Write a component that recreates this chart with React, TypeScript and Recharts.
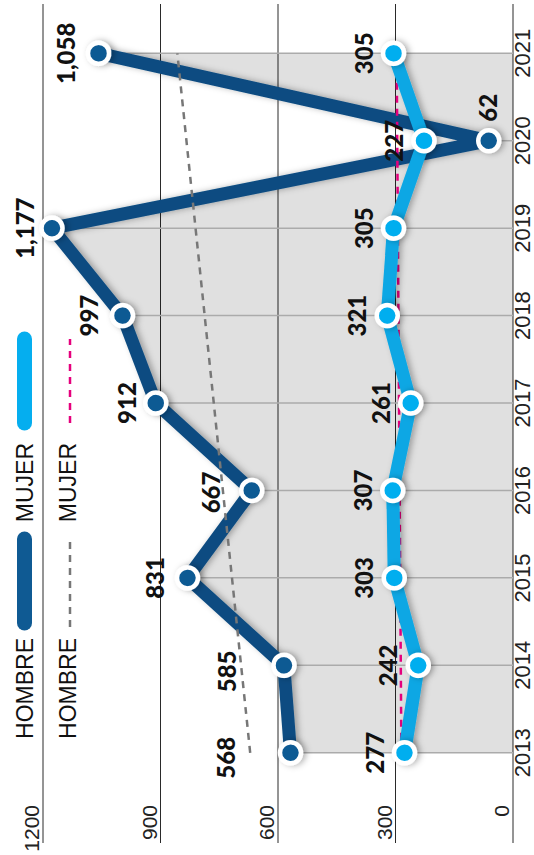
import React from 'react'
import { ComposedChart, Area, Bar, Line, XAxis, YAxis, CartesianGrid, LabelList } from 'recharts'

const years = [2013, 2014, 2015, 2016, 2017, 2018, 2019, 2020, 2021]
const hombre = [568, 585, 831, 667, 912, 997, 1177, 62, 1058]
const mujer = [277, 242, 303, 307, 261, 321, 305, 227, 305]
// tendencia: solo los extremos
const hombreTrend = [671, null, null, null, null, null, null, null, 857]
const mujerTrend = [285, null, null, null, null, null, null, null, 297]
const valueTicks = [0, 300, 600, 900, 1200]

const data = years.map((year, i) => ({
  year,
  hombre: hombre[i],
  mujer: mujer[i],
  hombreTrend: hombreTrend[i],
  mujerTrend: mujerTrend[i],
}))

const DARK = '#0c4c81'
const DARK_DOT = '#0f5a93'
const LIGHT = '#0aa7e4'
const LIGHT_DOT = '#05aeef'
const MAGENTA = '#e5007d'
const GREY_DASH = '#777'
const AXIS_FONT = "'Liberation Sans Narrow', 'Liberation Sans', Arial, sans-serif"
const NUM_FONT = "Lato, 'Noto Sans', sans-serif"

const fmt = (v: number) => v.toLocaleString('en-US')

// rotulos de HOMBRE: cuanto suben sobre el punto (algunos esquivan la tendencia)
const hombreLift = [56, 48, 24, 32, 20, 25, 18, 0, 24]
const hombreShift = [-5, -6, 0, -2, 0, 0, 0, 0, 0]

const labelStyle = { fontFamily: NUM_FONT, fontWeight: 900, fontSize: 24, fill: '#111' }

const HombreLabel = (p: any) => {
  const { x, y, value, index } = p
  if (index === 7) {
    return (
      <text x={x + 19} y={y + 8} textAnchor="start" {...labelStyle}>
        {fmt(value)}
      </text>
    )
  }
  return (
    <text x={x + hombreShift[index]} y={y - hombreLift[index]} textAnchor="middle" {...labelStyle}>
      {fmt(value)}
    </text>
  )
}

const MujerLabel = (p: any) => {
  const { x, y, value } = p
  return (
    <text x={x} y={y - 21} textAnchor="middle" {...labelStyle}>
      {fmt(value)}
    </text>
  )
}

const YearTick = (p: any) => (
  <text x={p.x} y={p.y + 17} textAnchor="middle" fontFamily={AXIS_FONT} fontSize={22} fill="#222">
    {p.payload.value}
  </text>
)

const ValueTick = (p: any) => (
  <text x={50} y={p.y - 4} textAnchor="end" fontFamily={AXIS_FONT} fontSize={21} fill="#222">
    {p.payload.value}
  </text>
)

function Legend() {
  const txt = { fontFamily: AXIS_FONT, fontSize: 23, fill: '#111' }
  return (
    <svg width={855} height={534} style={{ position: 'absolute', left: 0, top: 0, pointerEvents: 'none' }}>
      <text x={217} y={33} textAnchor="end" {...txt}>HOMBRE</text>
      <line x1={232} x2={316} y1={24.5} y2={24.5} stroke={DARK_DOT} strokeWidth={15} strokeLinecap="round" />
      <text x={412} y={33} textAnchor="end" {...txt}>MUJER</text>
      <line x1={432} x2={516} y1={24.5} y2={24.5} stroke={LIGHT_DOT} strokeWidth={15} strokeLinecap="round" />

      <text x={217} y={76} textAnchor="end" {...txt}>HOMBRE</text>
      <line x1={228} x2={318} y1={70} y2={70} stroke={GREY_DASH} strokeWidth={2.5} strokeDasharray="7 6" />
      <text x={412} y={76} textAnchor="end" {...txt}>MUJER</text>
      <line x1={432} x2={516} y1={70} y2={70} stroke={MAGENTA} strokeWidth={2.5} strokeDasharray="7 6" />
    </svg>
  )
}

export default function App() {
  return (
    <div style={{ position: 'absolute', left: 0, top: 0, width: 534, height: 855, overflow: 'hidden', background: '#fff' }}>
      <div
        style={{
          position: 'absolute',
          left: 0,
          top: 0,
          width: 855,
          height: 534,
          transformOrigin: '0 0',
          transform: 'translateY(855px) rotate(-90deg)',
        }}
      >
        <ComposedChart width={855} height={534} data={data} margin={{ top: 43, right: 4, bottom: 0, left: 0 }}>
          <defs>
            <filter id="shd" filterUnits="userSpaceOnUse" x={0} y={0} width={855} height={534}>
              <feDropShadow dx={0} dy={3} stdDeviation={3} floodColor="#000" floodOpacity={0.3} />
            </filter>
          </defs>
          <CartesianGrid vertical={false} stroke="#2a2a2a" strokeWidth={1} />
          <XAxis
            dataKey="year"
            type="number"
            domain={[2011.968, 2021.564]}
            ticks={years}
            height={21}
            axisLine={false}
            tickLine={false}
            tickSize={0}
            tickMargin={0}
            tick={YearTick}
          />
          <YAxis domain={[0, 1200]} ticks={valueTicks} width={12} axisLine={false} tickLine={false} tick={ValueTick} />

          <Area dataKey="hombre" type="linear" fill="#000" fillOpacity={0.12} stroke="none" isAnimationActive={false} />
          <Bar dataKey="hombre" barSize={1.5} fill="#ababab" isAnimationActive={false} />

          <Line dataKey="hombre" type="linear" stroke={DARK} strokeWidth={13} strokeLinejoin="round" dot={false} filter="url(#shd)" isAnimationActive={false} />
          <Line dataKey="hombreTrend" type="linear" stroke={GREY_DASH} strokeWidth={2.5} strokeDasharray="7 6" dot={false} connectNulls isAnimationActive={false} />
          <Line dataKey="mujerTrend" type="linear" stroke={MAGENTA} strokeWidth={2.5} strokeDasharray="7 6" dot={false} connectNulls isAnimationActive={false} />
          <Line dataKey="mujer" type="linear" stroke={LIGHT} strokeWidth={13} strokeLinejoin="round" dot={false} filter="url(#shd)" isAnimationActive={false} />

          <Line
            dataKey="hombre"
            stroke="none"
            dot={{ r: 10.5, fill: DARK_DOT, stroke: '#fff', strokeWidth: 4.5, filter: 'url(#shd)' }}
            activeDot={false}
            isAnimationActive={false}
          >
            <LabelList dataKey="hombre" content={HombreLabel} />
          </Line>
          <Line
            dataKey="mujer"
            stroke="none"
            dot={{ r: 10.5, fill: LIGHT_DOT, stroke: '#fff', strokeWidth: 4.5, filter: 'url(#shd)' }}
            activeDot={false}
            isAnimationActive={false}
          >
            <LabelList dataKey="mujer" content={MujerLabel} />
          </Line>
        </ComposedChart>
        <Legend />
      </div>
    </div>
  )
}
